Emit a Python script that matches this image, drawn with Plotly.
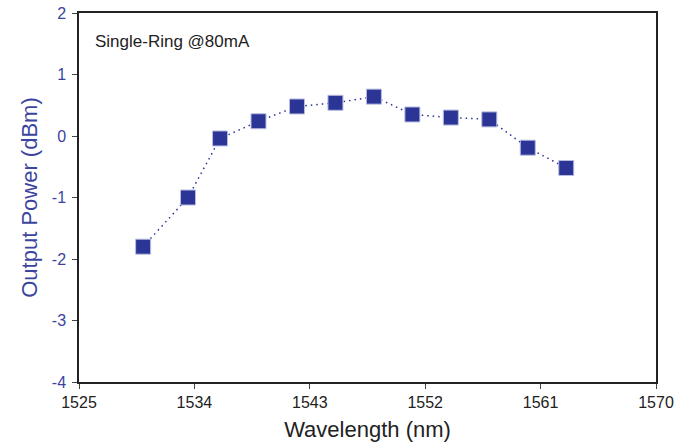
import plotly.graph_objects as go

wavelength = [1530.0, 1533.5, 1536.0, 1539.0, 1542.0, 1545.0, 1548.0, 1551.0, 1554.0, 1557.0, 1560.0, 1563.0]
power_dbm = [-1.80, -1.00, -0.04, 0.24, 0.48, 0.54, 0.64, 0.35, 0.30, 0.27, -0.19, -0.52]
x_ticks = [1525, 1534, 1543, 1552, 1561, 1570]
y_ticks = [-4, -3, -2, -1, 0, 1, 2]
y_tick_labels = ["-4", "-3", "-2", "-1", "0", "1", "2"]

navy = "#2b3595"
fig = go.Figure(go.Scatter(
    x=wavelength, y=power_dbm, mode="lines+markers",
    line=dict(color=navy, width=1.5, dash="1.5px,4px"),
    marker=dict(symbol="square", size=15, color=navy, line=dict(color="#b9bde0", width=1)),
))
fig.update_layout(
    width=685, height=445,
    margin=dict(l=79, r=29, t=13, b=63),
    plot_bgcolor="white", paper_bgcolor="white",
    font=dict(family="Liberation Sans, Arial, sans-serif", size=14, color="#222"),
    showlegend=False,
    annotations=[dict(text="Single-Ring @80mA", x=0.025, y=0.955, xref="paper", yref="paper",
                      xanchor="left", yanchor="top", showarrow=False,
                      font=dict(size=17, color="#222"))],
)
fig.update_xaxes(range=[1525, 1570], tickvals=x_ticks, ticks="outside", ticklen=5,
                 showline=True, linecolor="#222", linewidth=1.5, mirror=True, showgrid=False,
                 zeroline=False, tickfont=dict(size=16, color="#222"), ticklabelstandoff=0,
                 automargin=False,
                 title=dict(text="Wavelength (nm)", font=dict(size=22, color="#222"), standoff=12))
fig.update_yaxes(range=[-4, 2], tickvals=y_ticks, ticktext=y_tick_labels, ticks="outside", ticklen=5,
                 showline=True, linecolor="#222", linewidth=1.5, mirror=True, showgrid=False,
                 zeroline=False, tickfont=dict(size=16, color="#3b45a0"), ticklabelstandoff=3,
                 automargin=False,
                 title=dict(text="Output Power (dBm)", font=dict(size=22, color="#3b45a0"), standoff=8))
fig.write_html("out.html", config={"displayModeBar": False},
               post_script="document.body.style.margin='0';document.body.style.overflow='hidden';")
